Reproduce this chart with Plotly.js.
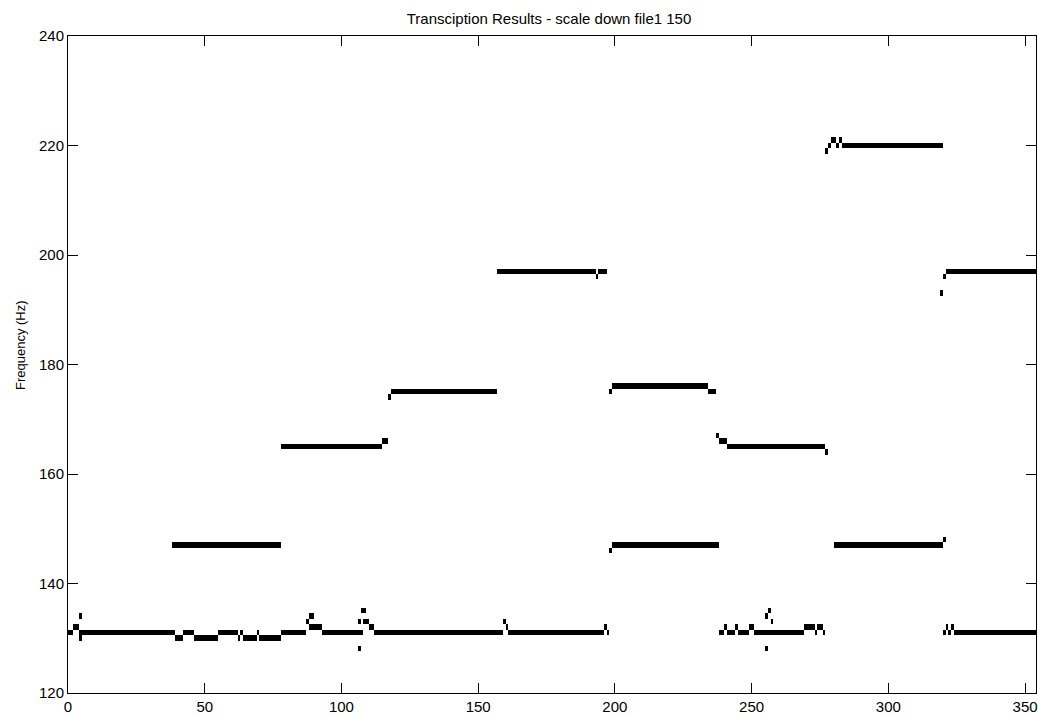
<!DOCTYPE html>
<html>
<head>
<meta charset="utf-8">
<script src="https://cdn.plot.ly/plotly-3.0.1.min.js"></script>
<style>html,body{margin:0;padding:0;background:#fff}#chart{width:1038px;height:715px}</style>
</head>
<body>
<div id="chart"></div>
<script>
const chartTitle = "Transciption Results - scale down file1 150";
const yLabel = "Frequency (Hz)";
const xTicks = [0, 50, 100, 150, 200, 250, 300, 350];
const yTicks = [120, 140, 160, 180, 200, 220, 240];
const frameCount = 354;
const freqMin = 120;
const freqMax = 240;

// Detected pitch runs: frame start, frame end (inclusive), frequency (Hz)
const segStart = [0, 2, 4, 4, 4, 39, 42, 46, 55, 62, 63, 64, 69, 70, 78, 87, 88, 88, 93, 106, 106, 107, 108, 110, 112, 159, 160, 161, 196, 197,
  238, 240, 241, 244, 245, 249, 251, 255, 255, 256, 257, 269, 273, 274, 276, 320, 321, 322, 323, 324,
  38, 78, 115, 117, 118, 157, 193, 194, 198, 199, 234, 198, 199, 237, 238, 241, 277, 280, 320,
  277, 278, 279, 281, 282, 283, 319, 320, 321];
const segEnd = [1, 3, 4, 4, 38, 41, 45, 54, 61, 62, 63, 68, 69, 77, 86, 87, 89, 92, 107, 106, 106, 108, 109, 111, 158, 159, 160, 195, 196, 197,
  239, 240, 243, 244, 248, 250, 268, 255, 255, 256, 257, 272, 273, 275, 276, 320, 321, 322, 323, 353,
  77, 114, 116, 117, 156, 192, 193, 196, 198, 233, 236, 198, 237, 237, 240, 276, 277, 319, 320,
  277, 278, 280, 281, 282, 319, 319, 320, 353];
const segFreq = [131, 132, 134, 130, 131, 130, 131, 130, 131, 130, 131, 130, 131, 130, 131, 133, 134, 132, 131, 133, 128, 135, 133, 132, 131, 133, 132, 131, 132, 131,
  131, 132, 131, 132, 131, 132, 131, 128, 134, 135, 133, 132, 131, 132, 131, 131, 132, 131, 132, 131,
  147, 165, 166, 174, 175, 197, 196, 197, 175, 176, 175, 146, 147, 167, 166, 165, 164, 147, 148,
  219, 220, 221, 220, 221, 220, 193, 196, 197];

// Build the on/off grid the heatmap needs
const nRows = freqMax - freqMin + 1;
const z = [];
for (let r = 0; r < nRows; r++) z.push(new Array(frameCount).fill(null));
for (let i = 0; i < segStart.length; i++) {
  const row = segFreq[i] - freqMin;
  for (let c = segStart[i]; c <= segEnd[i]; c++) z[row][c] = 1;
}

const fontFam = "Liberation Sans, Arial, Helvetica, sans-serif";

const trace = {
  type: 'heatmap',
  z: z,
  x0: 0.5, dx: 1,
  y0: freqMin, dy: 1,
  colorscale: [[0, '#000000'], [1, '#000000']],
  zmin: 0, zmax: 1,
  showscale: false,
  hoverinfo: 'skip'
};

const axisCommon = {
  showline: true, linecolor: '#000', linewidth: 1, mirror: 'ticks',
  ticks: 'inside', ticklen: 10, tickcolor: '#000', tickwidth: 1,
  showgrid: false, zeroline: false,
  tickfont: {family: fontFam, size: 15, color: '#000'}
};

const layout = {
  width: 1038, height: 715,
  margin: {l: 68, r: 2, t: 36, b: 22, pad: 0},
  paper_bgcolor: '#fff', plot_bgcolor: '#fff',
  showlegend: false,
  title: {text: chartTitle, font: {family: fontFam, size: 15, color: '#000'},
          xref: 'paper', x: (549 - 68) / 968, xanchor: 'center', yref: 'container', y: 1 - 19 / 715, yanchor: 'middle'},
  xaxis: Object.assign({}, axisCommon, {range: [0, frameCount], tickmode: 'array', tickvals: xTicks, ticktext: xTicks.map(String)}),
  yaxis: Object.assign({}, axisCommon, {range: [freqMin, freqMax], tickmode: 'array', tickvals: yTicks, ticktext: yTicks.map(String)}),
  annotations: [{
    text: yLabel, textangle: -90, showarrow: false,
    xref: 'paper', yref: 'paper', x: (20 - 68) / 968, y: (693 - 345) / 657,
    xanchor: 'center', yanchor: 'middle',
    font: {family: fontFam, size: 13, color: '#000'}
  }]
};

Plotly.newPlot('chart', [trace], layout, {displayModeBar: false, staticPlot: true});
</script>
</body>
</html>
